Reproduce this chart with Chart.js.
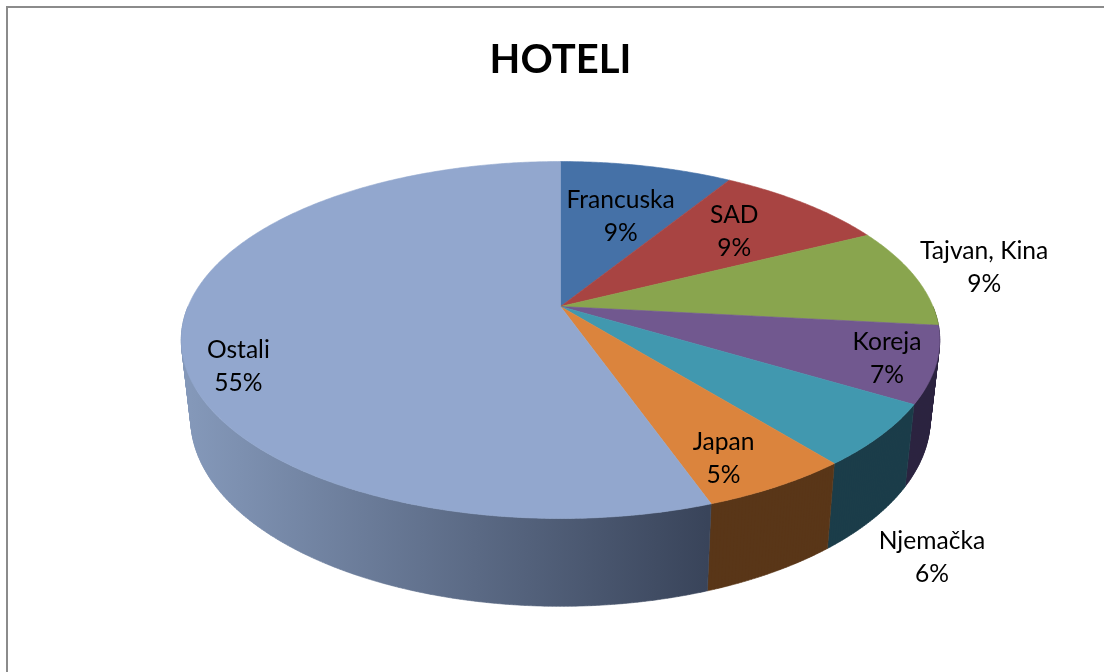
<!DOCTYPE html>
<html><head><meta charset="utf-8">
<style>
html,body{margin:0;padding:0;background:#fff;overflow:hidden}
#frame{position:absolute;left:6px;top:6px;width:1110px;height:680px;border-left:2px solid #8b8b8b;border-top:2px solid #8b8b8b}
canvas{position:absolute;left:0;top:0;display:block}
</style>
<script src="https://cdn.jsdelivr.net/npm/chart.js@4"></script>
</head><body><div id="frame"></div><canvas id="c" width="1104" height="672"></canvas>
<script>
const categories = ['Francuska','SAD','Tajvan, Kina','Koreja','Njemačka','Japan','Ostali'];
const shares = [8.8,8.8,9.1,6.9,5.6,5.4,55.4];
const topColors = ['#4571a7','#a84442','#89a54e','#71588f','#4198af','#db843d','#92a7ce'];
const wallColors = [['#233955'],['#542221'],['#445327'],['#2c2340'],['#1b3d49'],['#593618'],['#8498b9','#39445a']];
const labelOffsets = [[-26,50],[-70,28],[69,-9],[-49,-6],[51,122],[-54,-28],[57,30]];

// Perspective of the pie plane, relative to the arc's own radius and centre
const VIEW = {k:-0.1877, xScale:2.163, wallDrop:77, wallX:0.975, wallY:1.051};
const STEP = Math.PI/360;

function project(el, angle, wall){
  const t = angle + Math.PI/2, u = Math.sin(t), v = -Math.cos(t), w = 1 + VIEW.k*v, r = el.outerRadius;
  const sx = wall ? VIEW.wallX : 1, sy = wall ? VIEW.wallY : 1, d = wall ? VIEW.wallDrop : 0;
  return {x: el.x + r*VIEW.xScale*sx*u/w, y: el.y + d + r*sy*v/w};
}
function samples(a,b){
  const out=[], n=Math.max(1,Math.ceil((b-a)/STEP));
  for(let i=0;i<=n;i++) out.push(a+(b-a)*i/n);
  return out;
}
class Arc3D extends Chart.ArcElement {
  static id = 'arc3d';
  draw(ctx){
    const {startAngle,endAngle} = this.getProps(['startAngle','endAngle']);
    ctx.save();
    ctx.beginPath();
    ctx.moveTo(this.x,this.y);
    samples(startAngle,endAngle).forEach(a=>{const p=project(this,a,false);ctx.lineTo(p.x,p.y);});
    ctx.closePath();
    ctx.fillStyle=this.options.backgroundColor;
    ctx.strokeStyle=this.options.backgroundColor;
    ctx.lineWidth=0.6;
    ctx.fill();ctx.stroke();
    ctx.restore();
  }
}
class Pie3DController extends Chart.PieController {
  static id = 'pie3d';
  static defaults = {dataElementType:'arc3d'};
}
Chart.register(Arc3D,Pie3DController);

function addQuad(ctx,q){
  let area=0;
  q.forEach((p,i)=>{const n=q[(i+1)%4];area+=p.x*n.y-n.x*p.y;});
  const pts=area<0?q.slice().reverse():q;
  pts.forEach((p,i)=>i?ctx.lineTo(p.x,p.y):ctx.moveTo(p.x,p.y));
  ctx.closePath();
}
const walls = {
  id:'walls',
  beforeDatasetsDraw(chart){
    const ctx=chart.ctx, els=chart.getDatasetMeta(0).data;
    els.forEach((el,i)=>{
      const a=Math.max(el.startAngle,0), b=Math.min(el.endAngle,Math.PI);
      if(b<=a) return;
      const pts=samples(a,b);
      const top=pts.map(x=>project(el,x,false)), bot=pts.map(x=>project(el,x,true));
      const cols=wallColors[i];
      let fill=cols[0];
      if(cols.length>1){
        const xs=bot.map(p=>p.x), g=ctx.createLinearGradient(Math.min(...xs),0,Math.max(...xs),0);
        cols.forEach((c,j)=>g.addColorStop(j/(cols.length-1),c));
        fill=g;
      }
      ctx.save();
      ctx.fillStyle=fill;
      ctx.strokeStyle=fill;
      ctx.lineWidth=0.6;
      ctx.beginPath();
      for(let j=0;j<pts.length-1;j++) addQuad(ctx,[top[j],top[j+1],bot[j+1],bot[j]]);
      ctx.fill('nonzero');
      ctx.stroke();
      ctx.restore();
    });
  }
};
const sliceLabels = {
  id:'sliceLabels',
  afterDatasetsDraw(chart){
    const ctx=chart.ctx, els=chart.getDatasetMeta(0).data;
    ctx.save();
    ctx.font='24.6px Lato';ctx.fillStyle='#000';ctx.textAlign='center';ctx.textBaseline='middle';
    els.forEach((el,i)=>{
      const p=project(el,(el.startAngle+el.endAngle)/2,false);
      const x=p.x+labelOffsets[i][0], y=p.y+labelOffsets[i][1];
      ctx.fillText(categories[i],x,y-16.5);
      ctx.fillText(Math.round(shares[i])+'%',x,y+16.5);
    });
    ctx.restore();
  }
};
new Chart(document.getElementById('c'),{
  type:'pie3d',
  data:{labels:categories,datasets:[{data:shares,backgroundColor:topColors,borderWidth:0}]},
  options:{
    responsive:false,animation:false,radius:172.2,
    layout:{padding:{left:17,bottom:155}},
    plugins:{
      legend:{display:false},tooltip:{enabled:false},
      title:{display:true,text:'HOTELI',color:'#000',font:{family:'Lato',size:40,weight:'bold'},padding:{top:36,bottom:12}}
    }
  },
  plugins:[walls,sliceLabels]
});
</script></body></html>
